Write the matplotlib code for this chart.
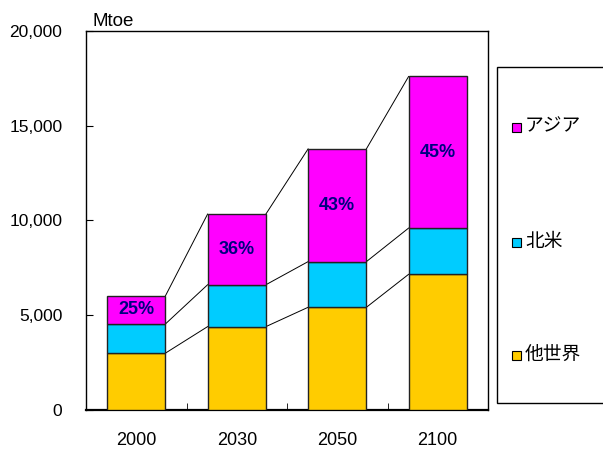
import numpy as np
import matplotlib.pyplot as plt
from matplotlib.patches import Rectangle

plt.rcParams['font.family'] = ['Liberation Sans', 'Noto Sans CJK JP', 'DejaVu Sans']

# Energy demand by region (Mtoe)
years = ['2000', '2030', '2050', '2100']
other = [3000, 4400, 5420, 7160]      # 他世界
namerica = [1540, 2210, 2410, 2440]   # 北米
asia = [1480, 3730, 5950, 8000]       # アジア

series = [other, namerica, asia]
names = ['他世界', '北米', 'アジア']
colors = ['#FFCC00', '#00CCFF', '#FF00FF']

fig = plt.figure(figsize=(6.03, 4.49), dpi=100)
ax = fig.add_axes([86 / 603, 1 - 410 / 449, 402 / 603, 379 / 449])

x = np.arange(len(years))
width = 0.58
bottom = np.zeros(len(years))
for vals, c in zip(series, colors):
    ax.bar(x, vals, width, bottom=bottom, color=c, edgecolor='#222222', linewidth=1.0, zorder=3)
    bottom = bottom + np.array(vals)
    # series lines joining the stack levels of neighbouring bars
    for i in range(len(years) - 1):
        ax.plot([x[i] + width / 2, x[i + 1] - width / 2], [bottom[i], bottom[i + 1]],
                color='black', linewidth=0.7, zorder=2)

# Asia share labels
total = bottom
lower = np.array(other) + np.array(namerica)
for i in range(len(years)):
    share = asia[i] / total[i] * 100
    ax.text(x[i], lower[i] + asia[i] / 2, f'{share:.0f}%', ha='center', va='center',
            fontsize=13, fontweight='bold', color='#000080', zorder=4)

ax.set_xlim(-0.5, len(years) - 0.5)
ax.set_ylim(0, 20000)
ax.set_yticks(range(0, 20001, 5000))
ax.set_yticklabels([f'{v:,}' for v in range(0, 20001, 5000)], fontsize=12.5)
ax.set_xticks(x)
ax.set_xticklabels(years, fontsize=13)
ax.set_xticks(np.arange(0.5, len(years) - 1, 1), minor=True)
ax.tick_params(axis='x', which='major', length=0, pad=16)
ax.tick_params(axis='x', which='minor', direction='in', length=5)
ax.tick_params(axis='y', direction='in', length=5, pad=17)
for s in ax.spines.values():
    s.set_linewidth(1.0)
ax.spines['bottom'].set_linewidth(1.6)

fig.text(93 / 603, 1 - 21 / 449, 'Mtoe', fontsize=13.5, va='center', ha='left')

# legend box, drawn by hand
fig.patches.append(Rectangle((497 / 603, 1 - 403 / 449), 200 / 603, 336 / 449,
                             transform=fig.transFigure, facecolor='white',
                             edgecolor='black', linewidth=1.0))
leg_y = {'アジア': 127, '北米': 242, '他世界': 355}
for name, c in zip(names, colors):
    yy = leg_y[name]
    fig.patches.append(Rectangle((512 / 603, 1 - (yy + 4.5) / 449), 9 / 603, 9 / 449,
                                 transform=fig.transFigure, facecolor=c,
                                 edgecolor='black', linewidth=0.8))
    fig.text(525 / 603, 1 - yy / 449, name, fontsize=13.5, va='center', ha='left')

fig.savefig('out.png', dpi=100)
